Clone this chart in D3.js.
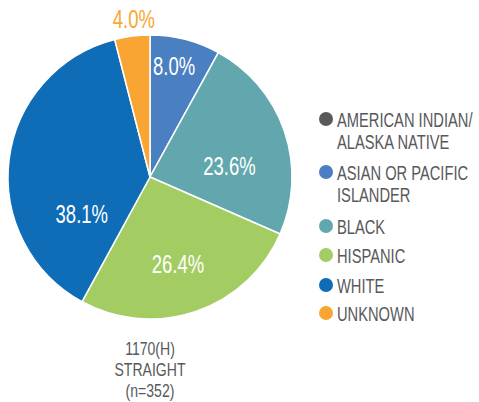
<!DOCTYPE html>
<html>
<head>
<meta charset="utf-8">
<script src="https://cdn.jsdelivr.net/npm/d3@7"></script>
<style>
  body { margin: 0; background: #fff; }
  svg text { font-family: "Liberation Sans", Arial, sans-serif; }
</style>
</head>
<body>
<svg id="chart"></svg>
<script>
var categories = ["AMERICAN INDIAN/ ALASKA NATIVE", "ASIAN OR PACIFIC ISLANDER", "BLACK", "HISPANIC", "WHITE", "UNKNOWN"];
var legendLines = [["AMERICAN INDIAN/", "ALASKA NATIVE"], ["ASIAN OR PACIFIC", "ISLANDER"], ["BLACK"], ["HISPANIC"], ["WHITE"], ["UNKNOWN"]];
var values = [0.0, 8.0, 23.6, 26.4, 38.1, 4.0];
var colors = ["#58595b", "#4a7fc1", "#62a7ad", "#a3cd63", "#0f6cb6", "#f9a533"];
var titleLines = ["1170(H)", "STRAIGHT", "(n=352)"];

var width = 479, height = 402;
var cx = 150, cy = 177, radius = 142;
var textColor = "#58595b";
var squeeze = 0.70; // no condensed font installed, so narrow the text by hand

// hand nudges so labels sit where the original put them
var labelNudge = {
    "ASIAN OR PACIFIC ISLANDER": [-2, -9],
    "BLACK": [-20, 23],
    "HISPANIC": [-6, -12],
    "WHITE": [36, 50],
    "UNKNOWN": [4, 2]
};

var svg = d3.select("#chart")
    .attr("width", width)
    .attr("height", height);

var color = d3.scaleOrdinal().domain(categories).range(colors);

var pie = d3.pie().sort(null).value(function(d) { return d.value; });
var data = categories.map(function(c, i) { return {name: c, value: values[i]}; });
var arcs = pie(data).filter(function(d) { return d.data.value > 0; });

var arc = d3.arc().innerRadius(0).outerRadius(radius);
var inner = d3.arc().innerRadius(105).outerRadius(105);
var outer = d3.arc().innerRadius(161).outerRadius(161);

var g = svg.append("g").attr("transform", "translate(" + cx + "," + cy + ")");

g.selectAll("path")
    .data(arcs)
    .enter().append("path")
    .attr("d", arc)
    .style("fill", function(d) { return color(d.data.name); })
    .style("stroke", "#fff")
    .style("stroke-width", "1.5px");

g.selectAll("text.pct")
    .data(arcs)
    .enter().append("text")
    .attr("class", "pct")
    .attr("transform", function(d) {
        var small = d.data.value < 5;
        var p = small ? outer.centroid(d) : inner.centroid(d);
        var n = labelNudge[d.data.name] || [0, 0];
        return "translate(" + (p[0] + n[0]) + "," + (p[1] + n[1]) + ") scale(0.74,1)";
    })
    .attr("text-anchor", "middle")
    .attr("dy", "0.36em")
    .style("font-size", "25px")
    .style("fill", function(d) { return d.data.value < 5 ? color(d.data.name) : "#fff"; })
    .text(function(d) { return d.data.value.toFixed(1) + "%"; });

// legend
var legendY = [119, 172, 226, 255, 285, 313];
var legend = svg.append("g").attr("class", "legend");
var items = legend.selectAll("g")
    .data(categories)
    .enter().append("g")
    .attr("transform", function(d, i) { return "translate(326," + legendY[i] + ")"; });

items.append("circle")
    .attr("r", 7)
    .style("fill", function(d) { return color(d); });

items.append("text")
    .attr("transform", "translate(11,7.5) scale(" + squeeze + ",1)")
    .style("font-size", "21px")
    .style("fill", textColor)
    .selectAll("tspan")
    .data(function(d, i) { return legendLines[i]; })
    .enter().append("tspan")
    .attr("x", 0)
    .attr("dy", function(d, i) { return i === 0 ? 0 : 23; })
    .text(function(d) { return d; });

// caption below pie, one text per line
svg.append("g").attr("class", "caption")
    .selectAll("text")
    .data(titleLines)
    .enter().append("text")
    .attr("text-anchor", "middle")
    .attr("transform", function(d, i) { return "translate(150," + (355 + i * 21) + ") scale(0.76,1)"; })
    .style("font-size", "18.5px")
    .style("fill", textColor)
    .text(function(d) { return d; });
</script>
</body>
</html>
